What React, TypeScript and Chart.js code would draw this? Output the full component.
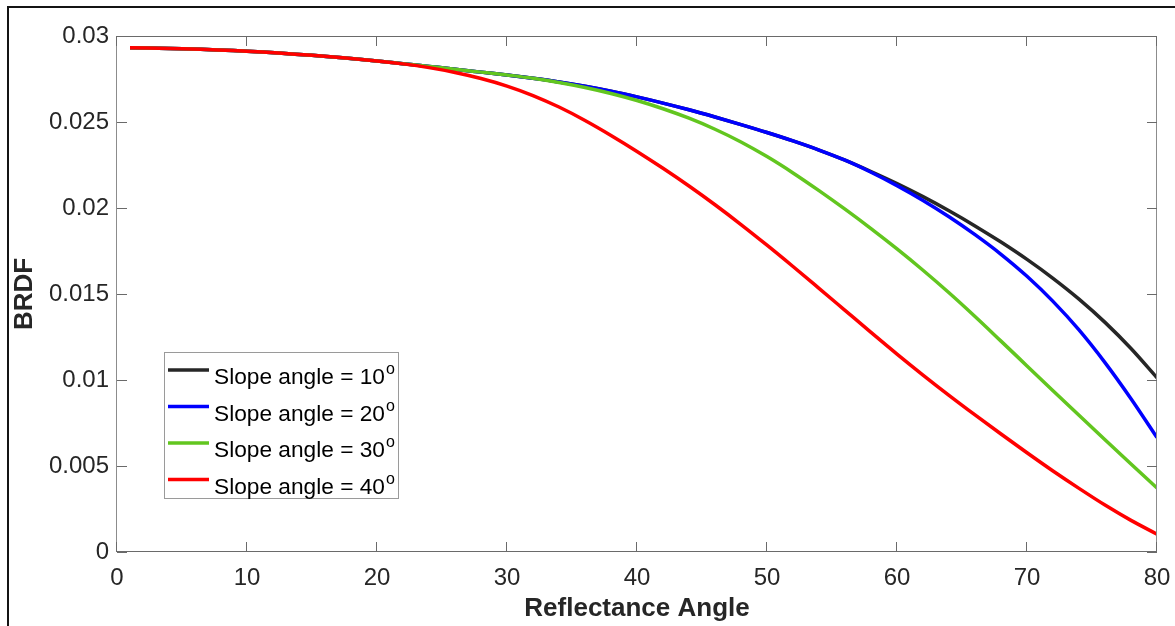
import React, { useEffect, useRef } from "react";
import { Chart, registerables } from "chart.js";

Chart.register(...registerables);

// ---- data ----
const angles = [1, 5, 10, 15, 20, 22, 24, 26, 28, 30, 32, 34, 36, 38, 40, 42, 44, 46, 48, 50, 52, 54, 56, 58, 60, 62, 64, 66, 68, 70, 72, 74, 76, 78, 80];

const brdfSlope10 = [0.02932, 0.02926, 0.02912, 0.02888, 0.02855, 0.02839, 0.02823, 0.02807, 0.0279, 0.02773, 0.02754, 0.02733, 0.02708, 0.02679, 0.02646, 0.0261, 0.02571, 0.02529, 0.02485, 0.02439, 0.0239, 0.02337, 0.02278, 0.02212, 0.02142, 0.02066, 0.01984, 0.01896, 0.01802, 0.01701, 0.01591, 0.0147, 0.01335, 0.01183, 0.01013];

const brdfSlope20 = [0.02932, 0.02926, 0.02912, 0.02888, 0.02855, 0.02839, 0.02823, 0.02807, 0.0279, 0.02773, 0.02754, 0.02733, 0.02708, 0.02679, 0.02646, 0.0261, 0.02571, 0.02529, 0.02485, 0.02439, 0.0239, 0.02337, 0.02278, 0.02208, 0.0213, 0.02044, 0.01949, 0.01845, 0.01731, 0.01603, 0.01457, 0.01291, 0.01101, 0.00891, 0.00665];

const brdfSlope30 = [0.02932, 0.02926, 0.02912, 0.02888, 0.02855, 0.02839, 0.02823, 0.02807, 0.0279, 0.02773, 0.02754, 0.0273, 0.02701, 0.02666, 0.02625, 0.02577, 0.02522, 0.02458, 0.02384, 0.02299, 0.02204, 0.02101, 0.01993, 0.0188, 0.01762, 0.01638, 0.01507, 0.01369, 0.01226, 0.01082, 0.00938, 0.00795, 0.00653, 0.00512, 0.00372];

const brdfSlope40 = [0.02932, 0.02926, 0.02912, 0.02888, 0.02855, 0.02838, 0.02816, 0.02788, 0.02753, 0.02709, 0.02654, 0.02587, 0.02509, 0.02422, 0.02329, 0.02231, 0.02128, 0.02019, 0.01904, 0.01784, 0.0166, 0.01533, 0.01405, 0.01277, 0.01151, 0.01029, 0.00911, 0.00797, 0.00686, 0.00577, 0.00471, 0.0037, 0.00273, 0.00184, 0.00104];

const slopeAngles = ["10", "20", "30", "40"];
const seriesValues = [brdfSlope10, brdfSlope20, brdfSlope30, brdfSlope40];
const seriesColors = ["#262626", "#0000ff", "#62c61f", "#ff0000"];

const xTickValues = [0, 10, 20, 30, 40, 50, 60, 70, 80];
const xTickLabels = ["0", "10", "20", "30", "40", "50", "60", "70", "80"];
const yTickValues = [0, 0.005, 0.01, 0.015, 0.02, 0.025, 0.03];
const yTickLabels = ["0", "0.005", "0.01", "0.015", "0.02", "0.025", "0.03"];

const FONT = "'Liberation Sans', Arial, Helvetica, sans-serif";
const TEXT = "#262626";

export default function App() {
  const ref = useRef<HTMLCanvasElement>(null);

  useEffect(() => {
    const canvas = ref.current;
    if (!canvas) return;

    const decorPlugin = {
      id: "decor",
      beforeDraw(chart: any) {
        const ctx = chart.ctx;
        ctx.save();
        ctx.fillStyle = "#ffffff";
        ctx.fillRect(0, 0, chart.width, chart.height);
        ctx.fillStyle = "#141414";
        ctx.fillRect(7, 6, 2, chart.height - 6);
        ctx.fillRect(7, 6, chart.width - 7, 2);
        ctx.restore();
      },
      afterDatasetsDraw(chart: any) {
        const ctx = chart.ctx;
        const { left, right, top, bottom } = chart.chartArea;
        const xs = chart.scales.x;
        const ys = chart.scales.y;
        const tl = 10;
        ctx.save();
        ctx.lineWidth = 1;
        // box
        ctx.strokeStyle = "#6a6a6a";
        ctx.beginPath();
        ctx.moveTo(left, Math.round(top) + 0.5);
        ctx.lineTo(right, Math.round(top) + 0.5);
        ctx.moveTo(left, Math.round(bottom) - 0.5);
        ctx.lineTo(right, Math.round(bottom) - 0.5);
        ctx.stroke();
        ctx.strokeStyle = "#8c8c8c";
        ctx.beginPath();
        ctx.moveTo(Math.round(left) - 0.5, top);
        ctx.lineTo(Math.round(left) - 0.5, bottom);
        ctx.moveTo(Math.round(right) - 0.5, top);
        ctx.lineTo(Math.round(right) - 0.5, bottom);
        ctx.stroke();
        // ticks (inward, on all four sides)
        ctx.strokeStyle = "#6a6a6a";
        ctx.beginPath();
        xTickValues.forEach((v) => {
          const px = Math.round(xs.getPixelForValue(v)) - 0.5;
          ctx.moveTo(px, bottom);
          ctx.lineTo(px, bottom - tl);
          ctx.moveTo(px, top);
          ctx.lineTo(px, top + tl);
        });
        yTickValues.forEach((v) => {
          const py = Math.round(ys.getPixelForValue(v)) + 0.5;
          ctx.moveTo(left, py);
          ctx.lineTo(left + tl, py);
          ctx.moveTo(right, py);
          ctx.lineTo(right - tl, py);
        });
        ctx.stroke();
        ctx.restore();
      },
      afterDraw(chart: any) {
        const ctx = chart.ctx;
        const { left, top } = chart.chartArea;
        const bx = left + 47;
        const by = top + 316;
        const bw = 234;
        const bh = 146;
        ctx.save();
        ctx.fillStyle = "#ffffff";
        ctx.fillRect(bx, by, bw, bh);
        ctx.strokeStyle = "#9a9a9a";
        ctx.lineWidth = 1;
        ctx.strokeRect(bx + 0.5, by + 0.5, bw, bh);
        slopeAngles.forEach((a, i) => {
          const base = by + 32 + i * 36.5;
          const ly = base - 14;
          ctx.strokeStyle = seriesColors[i];
          ctx.lineWidth = 3.5;
          ctx.beginPath();
          ctx.moveTo(bx + 4, ly);
          ctx.lineTo(bx + 45, ly);
          ctx.stroke();
          ctx.fillStyle = "#000000";
          ctx.textAlign = "left";
          ctx.textBaseline = "alphabetic";
          ctx.font = `22.7px ${FONT}`;
          const label = `Slope angle = ${a}`;
          ctx.fillText(label, bx + 50, base);
          const w = ctx.measureText(label).width;
          ctx.font = `16px ${FONT}`;
          ctx.fillText("o", bx + 50 + w + 1, base - 10);
        });
        ctx.restore();
      },
    };

    const chart = new Chart(canvas, {
      type: "line",
      data: {
        datasets: seriesValues.map((vals, i) => ({
          label: `Slope angle = ${slopeAngles[i]}`,
          data: angles.map((a, j) => ({ x: a, y: vals[j] })),
          borderColor: seriesColors[i],
          backgroundColor: seriesColors[i],
          borderWidth: 3.5,
          pointRadius: 0,
          fill: false,
          cubicInterpolationMode: "monotone" as const,
          order: seriesValues.length - 1 - i,
          clip: 0,
        })),
      },
      options: {
        responsive: false,
        animation: false,
        events: [],
        layout: { padding: { left: 0, top: 36, right: 18, bottom: 0 } },
        plugins: {
          legend: { display: false },
          tooltip: { enabled: false },
        },
        scales: {
          x: {
            type: "linear",
            min: 0,
            max: 80,
            afterFit: (s: any) => {
              s.height = 74;
              s.paddingLeft = 0;
              s.paddingRight = 0;
            },
            afterBuildTicks: (s: any) => {
              s.ticks = xTickValues.map((v) => ({ value: v }));
            },
            grid: { display: false, drawTicks: false },
            border: { display: false },
            ticks: {
              padding: 12,
              autoSkip: false,
              maxRotation: 0,
              color: TEXT,
              font: { family: FONT, size: 24 },
              callback: (_v: any, idx: number) => xTickLabels[idx],
            },
            title: {
              display: true,
              text: "Reflectance Angle",
              color: TEXT,
              font: { family: FONT, size: 26, weight: "bold" },
              padding: { top: 0, bottom: 2 },
            },
          },
          y: {
            type: "linear",
            min: 0,
            max: 0.03,
            afterFit: (s: any) => {
              s.width = 117;
              s.paddingTop = 0;
              s.paddingBottom = 0;
            },
            afterBuildTicks: (s: any) => {
              s.ticks = yTickValues.map((v) => ({ value: v }));
            },
            grid: { display: false, drawTicks: false },
            border: { display: false },
            ticks: {
              padding: 8,
              autoSkip: false,
              color: TEXT,
              font: { family: FONT, size: 24 },
              callback: (_v: any, idx: number) => yTickLabels[idx],
            },
            title: {
              display: true,
              text: "BRDF",
              color: TEXT,
              font: { family: FONT, size: 26, weight: "bold" },
              padding: { top: 9, bottom: 0 },
            },
          },
        },
      },
      plugins: [decorPlugin],
    } as any);

    return () => {
      chart.destroy();
    };
  }, []);

  return (
    <div style={{ position: "fixed", left: 0, top: 0, width: 1175, height: 626, background: "#ffffff" }}>
      <canvas ref={ref} width={1175} height={626} style={{ display: "block", width: 1175, height: 626 }} />
    </div>
  );
}
